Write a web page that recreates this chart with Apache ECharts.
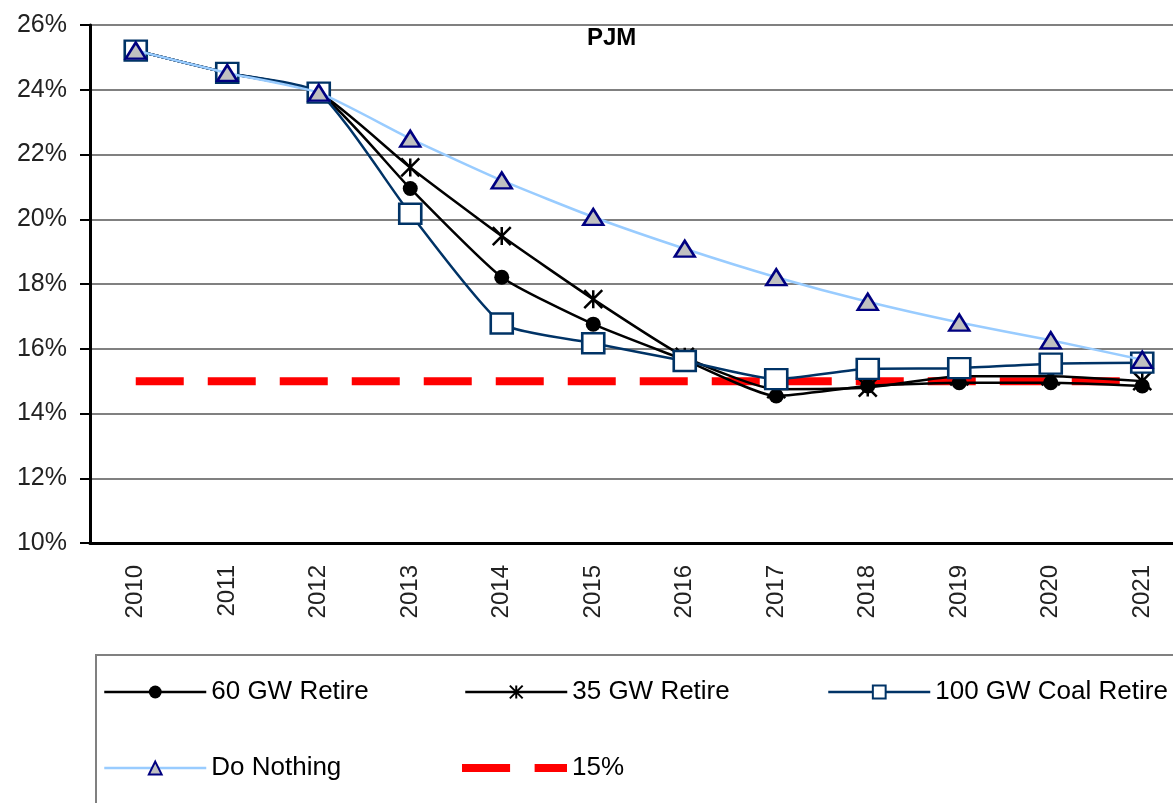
<!DOCTYPE html>
<html>
<head>
<meta charset="utf-8">
<script src="https://cdn.jsdelivr.net/npm/echarts@6/dist/echarts.min.js"></script>
<style>html,body{margin:0;padding:0;background:#fff;}#chart{width:1173px;height:803px;}</style>
</head>
<body>
<div id="chart"></div>
<script>
var categories = ['2010','2011','2012','2013','2014','2015','2016','2017','2018','2019','2020','2021'];
var retire60 = [25.21, 24.52, 23.91, 20.95, 18.21, 16.76, 15.65, 14.54, 14.85, 14.95, 14.95, 14.85];
var retire35 = [25.21, 24.52, 23.91, 21.6, 19.48, 17.53, 15.75, 14.75, 14.8, 15.15, 15.15, 15.0];
var coal100 = [25.21, 24.52, 23.91, 20.17, 16.78, 16.17, 15.62, 15.06, 15.38, 15.4, 15.54, 15.57];
var doNothing = [25.21, 24.52, 23.91, 22.49, 21.2, 20.07, 19.09, 18.21, 17.45, 16.81, 16.26, 15.66];
var target15 = [15, 15, 15, 15, 15, 15, 15, 15, 15, 15, 15, 15];
var yTicks = { min: 10, max: 26, interval: 2 };

var FONT = 'Liberation Sans, Arial, sans-serif';
var chart = echarts.init(document.getElementById('chart'));
var legendText = { fontSize: 26, color: '#000', fontFamily: FONT };
function lg(name, left, top, extra) {
  var o = { data: [name], left: left, top: top, padding: 0, itemWidth: 102, itemHeight: 16,
           textStyle: legendText, selectedMode: false, lineStyle: { width: 2.5 } };
  if (extra) { for (var k in extra) o[k] = extra[k]; }
  return o;
}
var option = {
  backgroundColor: '#fff',
  animation: false,
  title: { text: 'PJM', left: 587, top: 26, padding: 0,
           textStyle: { fontSize: 24, fontWeight: 'bold', color: '#000', fontFamily: FONT } },
  grid: { left: 90, top: 25, bottom: 260, width: 1098, containLabel: false, outerBoundsMode: 'none' },
  legend: [
    lg('60 GW Retire', 103, 679),
    lg('35 GW Retire', 464, 679),
    lg('100 GW Coal Retire', 827, 679),
    lg('Do Nothing', 103, 755),
    lg('15%', 462, 755, { data: [{ name: '15%', icon: 'path://M0,0H49V8H0Z M74,0H107V8H74Z' }],
                         itemWidth: 105, itemHeight: 8 })
  ],
  graphic: [{ type: 'rect', shape: { x: 96, y: 655, width: 1200, height: 300 },
              style: { fill: 'none', stroke: '#808080', lineWidth: 2 }, silent: true }],
  xAxis: {
    type: 'category', data: categories, boundaryGap: true,
    axisLine: { lineStyle: { color: '#000', width: 3 } },
    axisTick: { length: 8, lineStyle: { color: '#000', width: 2 } },
    axisLabel: { rotate: 90, margin: 22, fontSize: 24, color: '#222', fontFamily: FONT }
  },
  yAxis: {
    type: 'value', min: yTicks.min, max: yTicks.max, interval: yTicks.interval,
    axisLine: { show: true, lineStyle: { color: '#000', width: 3 } },
    axisTick: { show: true, length: 10, lineStyle: { color: '#000', width: 2 } },
    axisLabel: { formatter: '{value}%', margin: 23, fontSize: 25, color: '#222', fontFamily: FONT },
    splitLine: { lineStyle: { color: '#808080', width: 2 } }
  },
  series: [
    { name: '15%', type: 'line', data: target15, symbol: 'none', z: 1,
      lineStyle: { color: '#ff0000', width: 8, type: [48, 24] }, itemStyle: { color: '#ff0000' } },
    { name: '60 GW Retire', type: 'line', data: retire60, smooth: 0.18, z: 2,
      symbol: 'circle', symbolSize: 15,
      lineStyle: { color: '#000', width: 2.5 }, itemStyle: { color: '#000' } },
    { name: '35 GW Retire', type: 'line', data: retire35, smooth: 0.18, z: 3,
      symbol: 'path://M0,0L20,20M20,0L0,20M10,0L10,20', symbolSize: 18,
      lineStyle: { color: '#000', width: 2.5 },
      itemStyle: { color: '#000', borderColor: '#000', borderWidth: 2.5 } },
    { name: '100 GW Coal Retire', type: 'line', data: coal100, smooth: 0.18, z: 4,
      symbol: 'rect', symbolSize: [22, 20],
      lineStyle: { color: '#003366', width: 2.5 },
      itemStyle: { color: '#fff', borderColor: '#003366', borderWidth: 2.5 } },
    { name: 'Do Nothing', type: 'line', data: doNothing, smooth: 0.18, z: 5,
      symbol: 'triangle', symbolSize: [20, 16],
      lineStyle: { color: '#99ccff', width: 2.5 },
      itemStyle: { color: '#c0c0c0', borderColor: '#000080', borderWidth: 2.5 } }
  ]
};
chart.setOption(option);
</script>
</body>
</html>
